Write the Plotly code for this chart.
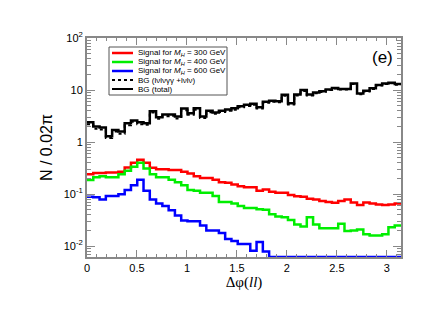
import numpy as np
import plotly.graph_objects as go

# 50 bins of width 0.02*pi on [0, pi]
n_bins = 50
bin_edges = np.arange(n_bins + 1) * 0.02 * np.pi

bg_total = [2.4, 2.0, 1.9, 1.3, 1.7, 1.6, 2.3, 2.6, 2.4, 2.3,
            3.9, 3.0, 3.4, 3.4, 3.1, 4.4, 3.6, 4.45, 3.1, 4.0,
            3.7, 4.0, 4.25, 4.45, 4.9, 5.2, 5.45, 4.65, 5.95, 6.2,
            6.1, 8.1, 5.55, 8.2, 10.0, 8.2, 9.0, 9.5, 10.3, 11.0,
            10.5, 10.5, 13.4, 8.6, 9.7, 10.8, 12.5, 13.4, 13.8, 13.0]
bg_lvlv = [2.2, 1.8, 1.75, 1.2, 1.6, 1.45, 2.1, 2.45, 2.2, 2.15,
           3.7, 2.8, 3.15, 3.2, 2.85, 4.1, 3.35, 4.2, 2.9, 3.75,
           3.5, 3.8, 4.0, 4.2, 4.65, 4.95, 5.2, 4.4, 5.7, 5.95,
           5.85, 7.8, 5.3, 7.9, 9.6, 7.9, 8.7, 9.2, 10.0, 10.7,
           10.2, 10.2, 13.0, 8.3, 9.4, 10.5, 12.2, 13.1, 13.5, 12.7]
sig_300 = [0.24, 0.255, 0.255, 0.26, 0.26, 0.27, 0.325, 0.40, 0.46, 0.40,
           0.32, 0.30, 0.30, 0.29, 0.29, 0.27, 0.25, 0.22, 0.205, 0.205,
           0.19, 0.17, 0.165, 0.154, 0.142, 0.135, 0.135, 0.116, 0.123, 0.111,
           0.106, 0.106, 0.096, 0.091, 0.089, 0.082, 0.079, 0.074, 0.071, 0.068,
           0.074, 0.079, 0.069, 0.062, 0.069, 0.066, 0.063, 0.062, 0.063, 0.066]
sig_400 = [0.186, 0.21, 0.22, 0.21, 0.21, 0.24, 0.28, 0.335, 0.40, 0.31,
           0.24, 0.21, 0.21, 0.19, 0.17, 0.149, 0.12, 0.116, 0.106, 0.106,
           0.092, 0.071, 0.071, 0.066, 0.059, 0.054, 0.054, 0.051, 0.050, 0.041,
           0.037, 0.036, 0.032, 0.026, 0.024, 0.036, 0.026, 0.022, 0.022, 0.022,
           0.027, 0.0196, 0.020, 0.021, 0.017, 0.016, 0.016, 0.017, 0.023, 0.025]
sig_600 = [0.089, 0.087, 0.079, 0.092, 0.092, 0.10, 0.12, 0.149, 0.19, 0.116,
           0.079, 0.066, 0.059, 0.049, 0.039, 0.031, 0.030, 0.030, 0.025, 0.020,
           0.020, 0.018, 0.0138, 0.0126, 0.011, 0.011, 0.0082, 0.012, 0.0079, 0,
           0, 0, 0, 0, 0, 0, 0, 0, 0, 0,
           0, 0, 0, 0, 0, 0, 0, 0, 0, 0]

x_ticks = [0, 0.5, 1, 1.5, 2, 2.5, 3]
x_ticktext = ["0", "0.5", "1", "1.5", "2", "2.5", "3"]
y_ticks = [0.01, 0.1, 1, 10, 100]
y_ticktext = ["10<sup>-2</sup>", "10<sup>-1</sup>", "1", "10", "10<sup>2</sup>"]

Y_MIN = 0.0062
Y_MAX = 100.0

# minor tick positions on the log axis (2..9 times each decade)
y_minor = [m * 10.0 ** e for e in range(-3, 2) for m in range(2, 10)]
y_minor = [v for v in y_minor if Y_MIN <= v <= Y_MAX]


def step(vals):
    # empty bins are drawn on the floor of the plot, as in the original
    v = [max(a, Y_MIN) for a in vals]
    return list(bin_edges), v + [v[-1]]


fig = go.Figure()
series = [
    (bg_total, "black", 2.5, "solid"),
    (bg_lvlv, "black", 2, "dot"),
    (sig_300, "#ff0000", 2.5, "solid"),
    (sig_400, "#00ee00", 2.5, "solid"),
    (sig_600, "#0000ff", 2.5, "solid"),
]
for vals, col, w, dash in series:
    xs, ys = step(vals)
    fig.add_trace(go.Scatter(x=xs, y=ys, mode="lines", line_shape="hv",
                             line=dict(color=col, width=w, dash=dash),
                             showlegend=False, hoverinfo="skip"))

axis_col = "#888888"
fig.update_xaxes(range=[0, np.pi], tickvals=x_ticks, ticktext=x_ticktext,
                 showline=True, linecolor=axis_col, linewidth=2, mirror="allticks",
                 ticks="inside", ticklen=7, tickcolor=axis_col, tickwidth=1,
                 minor=dict(ticks="inside", ticklen=3, tick0=0, dtick=0.1,
                            tickcolor=axis_col, tickwidth=1, showgrid=False),
                 showgrid=False, zeroline=False,
                 tickfont=dict(family="Liberation Sans, Arial", size=11, color="black"),
                 title=dict(text="Δφ(<i>ll</i>)", standoff=3,
                            font=dict(family="Liberation Serif, Times New Roman", size=15, color="black")))
fig.update_yaxes(type="log", range=[np.log10(Y_MIN), np.log10(Y_MAX)],
                 tickvals=y_ticks, ticktext=y_ticktext,
                 showline=True, linecolor=axis_col, linewidth=2, mirror="allticks",
                 ticks="inside", ticklen=8, tickcolor=axis_col, tickwidth=1,
                 minor=dict(ticks="inside", ticklen=4, tickvals=y_minor,
                            tickcolor=axis_col, tickwidth=1, showgrid=False),
                 showgrid=False, zeroline=False,
                 tickfont=dict(family="Liberation Sans, Arial", size=11, color="black"),
                 title=dict(text="N / 0.02π", standoff=7,
                            font=dict(family="Liberation Sans, Arial", size=16, color="black")))

# manual legend (paper coordinates of the plot area)
W, H = 314.0, 219.0
def px(x):
    return (x - 87) / W
def py(y):
    return (257 - y) / H

fig.add_shape(type="rect", xref="paper", yref="paper",
              x0=px(109), x1=px(227), y0=py(47), y1=py(95),
              line=dict(color="#555555", width=1), fillcolor="white", layer="above")
legend_items = [
    ("Signal for <i>M</i><sub><i>H</i></sub> = 300 GeV", "#ff0000", "solid", 2.5),
    ("Signal for <i>M</i><sub><i>H</i></sub> = 400 GeV", "#00ee00", "solid", 2.5),
    ("Signal for <i>M</i><sub><i>H</i></sub> = 600 GeV", "#0000ff", "solid", 2.5),
    ("BG (lνlνγγ +lνlν)", "black", "dot", 2),
    ("BG (total)", "black", "solid", 2),
]
for i, (txt, col, dash, w) in enumerate(legend_items):
    yy = 53 + 9 * i
    fig.add_shape(type="line", xref="paper", yref="paper",
                  x0=px(112), x1=px(133), y0=py(yy), y1=py(yy),
                  line=dict(color=col, width=w, dash=dash), layer="above")
    fig.add_annotation(xref="paper", yref="paper", x=px(136), y=py(yy),
                       xanchor="left", yanchor="middle", text=txt, showarrow=False,
                       font=dict(family="Liberation Sans, Arial", size=8, color="black"))

fig.add_annotation(xref="paper", yref="paper", x=px(382), y=py(57),
                   xanchor="center", yanchor="middle", text="(e)", showarrow=False,
                   font=dict(family="Liberation Sans, Arial", size=17, color="black"))

# page body has an 8px default margin: plot area sits at page x 87..401, y 38..257
fig.update_layout(width=428, height=308, margin=dict(l=79, r=35, t=30, b=59),
                  paper_bgcolor="white", plot_bgcolor="white")

fig.write_html("out.html")
